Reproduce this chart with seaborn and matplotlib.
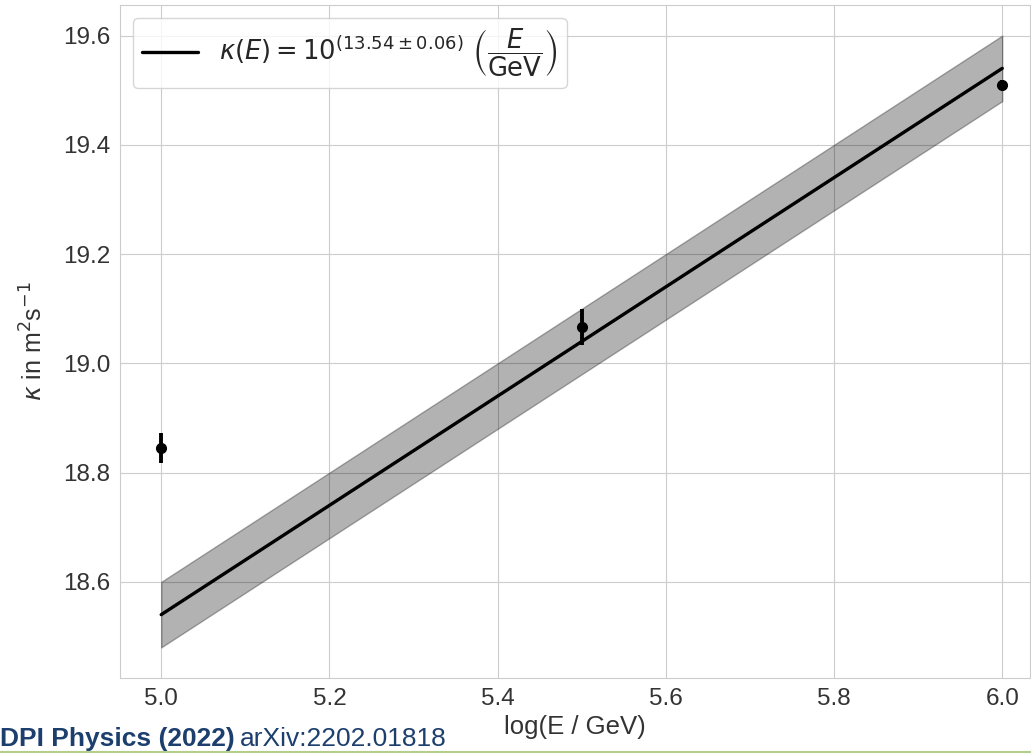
import numpy as np
import matplotlib
matplotlib.use("Agg")
import matplotlib.pyplot as plt
import seaborn as sns
from matplotlib.lines import Line2D

# Messpunkte
log_e = [5.0, 5.5, 6.0]
kappa = [18.845, 19.066, 19.51]
kappa_err = [0.028, 0.033, 0.008]

# Fit
fit_x = [5.0, 6.0]
fit_y = [18.54, 19.54]
fit_err = 0.06

sns.set_style("whitegrid")
plt.rcParams['font.family'] = ['Liberation Sans', 'DejaVu Sans']
plt.rcParams['mathtext.fontset'] = 'dejavusans'

fig = plt.figure(figsize=(10.31, 7.54), dpi=100)
ax = fig.add_axes([120 / 1031, 76 / 754, 910 / 1031, 673 / 754])

lo = np.array(fit_y) - fit_err
hi = np.array(fit_y) + fit_err
ax.fill_between(fit_x, lo, hi, color='k', alpha=0.3)
sns.lineplot(x=fit_x, y=fit_y, color='k', lw=2.4, ax=ax,
             label=r'$\kappa(E) = 10^{(13.54 \pm 0.06)}\ \left(\dfrac{E}{\mathrm{GeV}}\right)$')
ax.errorbar(log_e, kappa, yerr=kappa_err, fmt='o', color='k', ms=7, elinewidth=2.8, capsize=0)

ax.set_xlim(4.951, 6.033)
ax.set_ylim(18.424, 19.656)
ax.set_xticks([5.0, 5.2, 5.4, 5.6, 5.8, 6.0])
ax.set_yticks([18.6, 18.8, 19.0, 19.2, 19.4, 19.6])
ax.tick_params(labelsize=17.5, colors='#333333', length=0, pad=7)
ax.set_xlabel('log(E / GeV)', fontsize=18.5, color='#333333', labelpad=4)
ax.set_ylabel(r'$\kappa$ in m$^2$s$^{-1}$', fontsize=18, color='#333333', labelpad=11)
for s in ax.spines.values():
    s.set_color('#cccccc')

leg = ax.legend(loc='upper left', fontsize=18.5, frameon=True, handlelength=2.2,
                borderpad=0.35, fancybox=True, borderaxespad=0.5)
leg.get_frame().set_edgecolor('#cccccc')

# Fußzeile
fig.text(0.0, 0.01, 'DPI Physics (2022)', fontsize=19, fontweight='bold', color='#1d3f6e')
fig.text(240 / 1031, 0.01, 'arXiv:2202.01818', fontsize=19, color='#1d3f6e')
fig.add_artist(Line2D([0, 1], [0.002, 0.002], transform=fig.transFigure, color='#b5cf8a', lw=1.5))

plt.savefig('out.png', dpi=100)
